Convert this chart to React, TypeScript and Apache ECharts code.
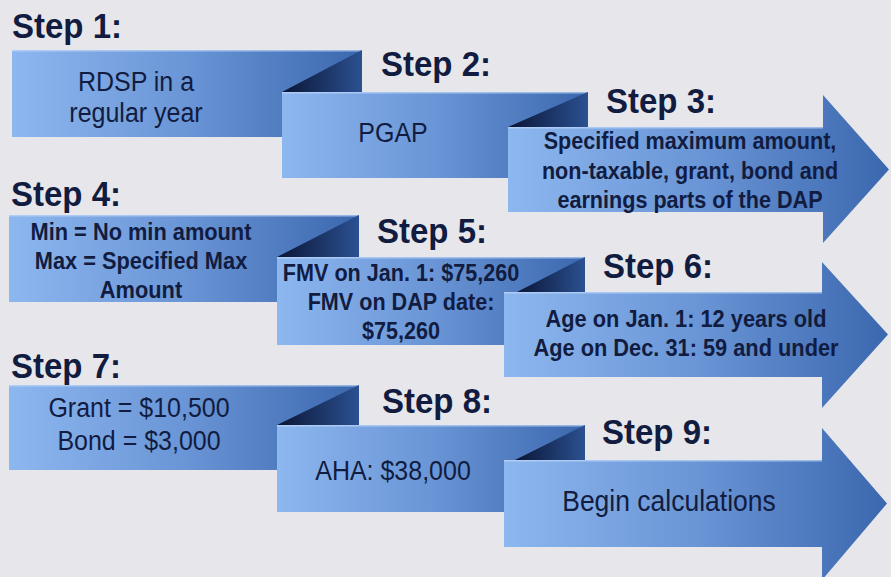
import React, { useEffect, useRef } from "react";
import * as echarts from "echarts";

// ---- content ----
const stepTitles = ["Step 1:", "Step 2:", "Step 3:", "Step 4:", "Step 5:", "Step 6:", "Step 7:", "Step 8:", "Step 9:"];
const stepTexts: string[][] = [
  ["RDSP in a", "regular year"],
  ["PGAP"],
  ["Specified maximum amount,", "non-taxable, grant, bond and", "earnings parts of the DAP"],
  ["Min = No min amount", "Max = Specified Max", "Amount"],
  ["FMV on Jan. 1: $75,260", "FMV on DAP date:", "$75,260"],
  ["Age on Jan. 1: 12 years old", "Age on Dec. 31: 59 and under"],
  ["Grant = $10,500", "Bond = $3,000"],
  ["AHA: $38,000"],
  ["Begin calculations"],
];
const stepBold = [false, false, true, true, true, true, false, false, false];

// ---- layout (geometry only) ----
type Box = {
  x0: number; y0: number; x1: number; y1: number;
  foldX?: number; foldY?: number;
  arrow?: boolean; headTop?: number; headBot?: number; tip?: number;
};
const boxes: Box[] = [
  { x0: 12, y0: 50, x1: 362, y1: 137, foldX: 282, foldY: 92 },
  { x0: 282, y0: 92, x1: 588, y1: 178, foldX: 508, foldY: 127 },
  { x0: 508, y0: 127, x1: 823, y1: 212, arrow: true, headTop: 95, headBot: 243, tip: 889 },
  { x0: 9, y0: 215, x1: 359, y1: 302, foldX: 277, foldY: 257 },
  { x0: 277, y0: 257, x1: 585, y1: 345, foldX: 517, foldY: 292 },
  { x0: 504, y0: 292, x1: 822, y1: 377, arrow: true, headTop: 262, headBot: 408, tip: 888 },
  { x0: 9, y0: 385, x1: 359, y1: 470, foldX: 277, foldY: 425 },
  { x0: 277, y0: 425, x1: 585, y1: 512, foldX: 515, foldY: 460 },
  { x0: 504, y0: 460, x1: 822, y1: 547, arrow: true, headTop: 428, headBot: 580, tip: 887 },
];
const titlePos: [number, number][] = [
  [12, 26], [381, 64], [606, 101],
  [11, 194], [377, 231], [603, 266],
  [11, 366], [382, 401], [602, 432],
];
const textPos: [number, number, number, number][] = [
  // cx, cy, fontSize, lineHeight
  [136, 97, 25, 29],
  [393, 133, 25, 27],
  [690, 171, 21.6, 27.5],
  [141, 261, 21.8, 27],
  [401, 302, 21.6, 27],
  [686, 333, 21.8, 27],
  [139, 424, 25, 30],
  [393, 471, 25, 27],
  [669, 501, 26.5, 27],
];

const FONT = "Arial";
const TEXT_COLOR = "#111c40";
const SCALE_Y = 1.08;

function bodyGradient() {
  return new echarts.graphic.LinearGradient(0, 0, 1, 0, [
    { offset: 0, color: "#8db7ef" },
    { offset: 0.5, color: "#6a95d6" },
    { offset: 1, color: "#3b67ae" },
  ]);
}
function foldGradient() {
  return new echarts.graphic.LinearGradient(0, 0, 1, 0, [
    { offset: 0, color: "#0a1534" },
    { offset: 1, color: "#2b5192" },
  ]);
}

export default function App() {
  const ref = useRef<HTMLDivElement>(null);
  useEffect(() => {
    if (!ref.current) return;
    const chart = echarts.init(ref.current, undefined, { renderer: "svg" });
    const elements: any[] = [];
    let z = 1;
    boxes.forEach((b) => {
      if (b.arrow) {
        const midY = (b.y0 + b.y1) / 2;
        elements.push({
          type: "polygon",
          z: z++,
          shape: {
            points: [
              [b.x0, b.y0], [b.x1, b.y0], [b.x1, b.headTop], [b.tip, midY],
              [b.x1, b.headBot], [b.x1, b.y1], [b.x0, b.y1],
            ],
          },
          style: { fill: bodyGradient() },
        });
        elements.push({
          type: "line", z: z++,
          shape: { x1: b.x0, y1: b.y0 + 0.75, x2: b.x1, y2: b.y0 + 0.75 },
          style: { stroke: "rgba(190,215,250,0.7)", lineWidth: 1.5 },
        });
      } else {
        elements.push({
          type: "rect", z: z++,
          shape: { x: b.x0, y: b.y0, width: b.x1 - b.x0, height: b.y1 - b.y0 },
          style: { fill: bodyGradient() },
        });
        elements.push({
          type: "line", z: z++,
          shape: { x1: b.x0, y1: b.y0 + 0.75, x2: b.x1, y2: b.y0 + 0.75 },
          style: { stroke: "rgba(190,215,250,0.7)", lineWidth: 1.5 },
        });
        elements.push({
          type: "polygon", z: z++,
          shape: { points: [[b.foldX!, b.foldY!], [b.x1, b.y0], [b.x1, b.foldY!]] },
          style: { fill: foldGradient() },
        });
      }
    });
    stepTitles.forEach((t, i) => {
      const [x, y] = titlePos[i];
      elements.push({
        type: "text", z: 200, x, y, scaleY: SCALE_Y,
        style: {
          text: t, x: 0, y: 0, fill: TEXT_COLOR, fontSize: 33, fontWeight: "bold",
          fontFamily: FONT, align: "left", verticalAlign: "middle",
        },
      });
    });
    stepTexts.forEach((lines, i) => {
      const [cx, cy, fs, lh] = textPos[i];
      elements.push({
        type: "text", z: 200, x: cx, y: cy, scaleY: SCALE_Y,
        style: {
          text: lines.join("\n"), x: 0, y: 0, fill: TEXT_COLOR, fontSize: fs,
          fontWeight: stepBold[i] ? "bold" : "normal", fontFamily: FONT,
          align: "center", verticalAlign: "middle", lineHeight: lh,
        },
      });
    });
    chart.setOption({
      animation: false,
      backgroundColor: "#e7e7eb",
      graphic: { elements },
    });
    return () => chart.dispose();
  }, []);
  return <div ref={ref} style={{ position: "fixed", left: 0, top: 0, width: 891, height: 577 }} />;
}
